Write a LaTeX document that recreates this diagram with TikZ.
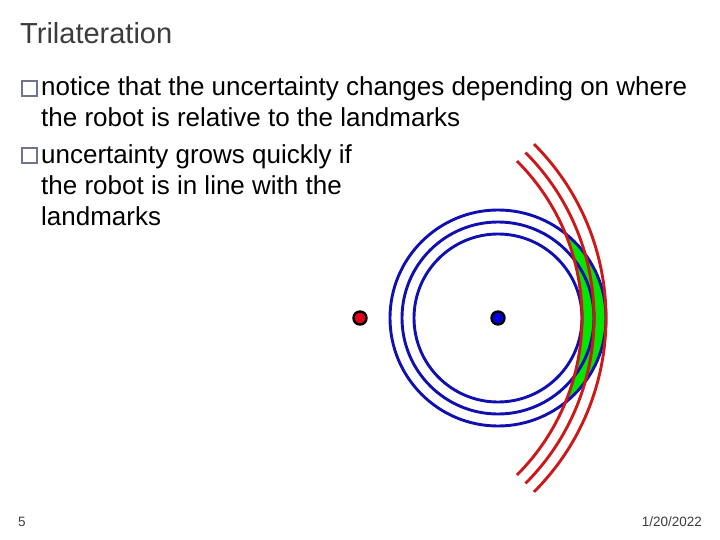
\documentclass[tikz,border=0pt]{standalone}
\usepackage{fontspec}
\setmainfont{Liberation Sans}
\definecolor{rblue}{RGB}{16,16,176}
\definecolor{rred}{RGB}{204,24,24}
\definecolor{rgreen}{RGB}{0,232,0}
\definecolor{dotblue}{RGB}{0,0,225}
\definecolor{dotred}{RGB}{230,0,30}
\definecolor{bulletc}{RGB}{112,116,140}
\definecolor{titlec}{RGB}{60,60,60}
\tikzset{
  bluearc/.style={draw=rblue,line width=2.9pt},
  redarc/.style={draw=rred,line width=2.9pt},
  dot/.style={circle,draw=black,line width=2.4pt,minimum size=13pt,inner sep=0pt},
  bulletbox/.style={draw=bulletc,line width=2pt,minimum size=14.5pt,inner sep=0pt},
  bodytext/.style={inner sep=0pt,align=left,anchor=north west,font=\fontsize{26}{31}\selectfont},
  foot/.style={inner sep=0pt,text=titlec,font=\fontsize{13.5}{15}\selectfont}
}
\begin{document}
\begin{tikzpicture}[x=1pt,y=-1pt]
\useasboundingbox (0,0) rectangle (720,540);
\node[inner sep=0pt,anchor=base west,text=titlec,font=\fontsize{29}{34}\selectfont] (title) at (20,44) {Trilateration};
\node[bulletbox] (b1) at (29.5,88.5) {};
\node[bodytext] (t1) at (41,76) {notice that the uncertainty changes depending on where\\the robot is relative to the landmarks};
\node[bulletbox] (b2) at (29.5,155.5) {};
\node[bodytext] (t2) at (41,144) {uncertainty grows quickly if\\the robot is in line with the\\landmarks};
\coordinate (cb) at (498,318);
\coordinate (cr) at (360,318);
% green lens: disc of radius 108 about cb outside disc of radius 222 about cr
\fill[rgreen] (565.3,233.5) arc[start angle=-51.47,end angle=51.47,radius=108]
  arc[start angle=22.38,end angle=-22.38,radius=222];
\foreach \r in {84,96,108} \draw[bluearc] (cb) circle[radius=\r];
\foreach \r in {222,234,246} \draw[redarc] (cr) ++(45:\r) arc[start angle=45,end angle=-45,radius=\r];
\node[dot,fill=dotred] (robotA) at (cr) {};
\node[dot,fill=dotblue] (robotB) at (cb) {};
\node[foot,anchor=base west] (pg) at (18,526) {5};
\node[foot,anchor=base east] (dt) at (702,526) {1/20/2022};
\end{tikzpicture}
\end{document}
